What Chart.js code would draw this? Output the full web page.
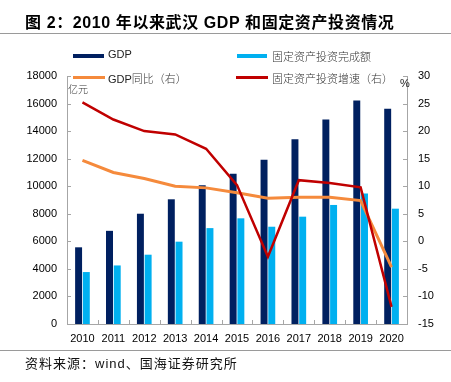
<!DOCTYPE html>
<html><head><meta charset="utf-8">
<script src="https://cdn.jsdelivr.net/npm/chart.js@4"></script>
<style>
html,body{margin:0;padding:0;background:#fff;}
#wrap{position:relative;width:451px;height:382px;overflow:hidden;font-family:"Liberation Sans","Noto Sans CJK SC",sans-serif;}
canvas{position:absolute;left:0;top:0;}
.t{position:absolute;white-space:nowrap;color:#000;}
.sw{position:absolute;}
</style></head>
<body>
<div id="wrap">
<canvas id="c" width="451" height="382"></canvas>
<div class="t" style="left:25px;top:9px;font-size:16px;font-weight:bold;letter-spacing:0.6px;">图 2：2010 年以来武汉 GDP 和固定资产投资情况</div>
<div class="sw" style="left:0;top:33px;width:451px;height:1px;background:#9a9a9a;"></div>
<div class="sw" style="left:0;top:350px;width:451px;height:1px;background:#9a9a9a;"></div>
<div class="t" style="left:25px;top:353px;font-size:13px;color:#111;letter-spacing:1px;">资料来源：wind、国海证券研究所</div>

<div class="sw" style="left:73px;top:54px;width:31px;height:4px;background:#002060;"></div>
<div class="t" style="left:108px;top:48px;font-size:11px;color:#222;">GDP</div>
<div class="sw" style="left:237px;top:54px;width:30px;height:4px;background:#00B0F0;"></div>
<div class="t" style="left:272px;top:48px;font-size:11px;color:#333;font-family:'Noto Sans CJK SC';font-weight:300;">固定资产投资完成额</div>

<div class="sw" style="left:73px;top:76px;width:32px;height:3px;background:#F58A3C;"></div>
<div class="t" style="left:108px;top:70px;font-size:11px;color:#222;">GDP<span style="font-family:'Noto Sans CJK SC';font-weight:300;color:#333;">同比（右）</span></div>
<div class="sw" style="left:236px;top:76px;width:32px;height:3px;background:#C00000;"></div>
<div class="t" style="left:272px;top:70px;font-size:11px;color:#333;font-family:'Noto Sans CJK SC';font-weight:300;">固定资产投资增速（右）</div>

<div class="t" style="left:68px;top:81px;font-size:10px;color:#333;font-family:'Noto Sans CJK SC';font-weight:300;">亿元</div>
<div class="t" style="left:400px;top:77px;font-size:11px;color:#222;">%</div>
</div>
<script>
const years = ["2010","2011","2012","2013","2014","2015","2016","2017","2018","2019","2020"];
const gdp = [5566, 6762, 8004, 9051, 10069, 10906, 11913, 13410, 14847, 16223, 15616];
const fai = [3770, 4250, 5030, 5975, 6960, 7670, 7060, 7790, 8640, 9480, 8370];
const gdpGrowth = [14.7, 12.5, 11.4, 10.0, 9.7, 8.8, 7.8, 8.0, 8.0, 7.4, -4.7];
const faiGrowth = [25.2, 22.1, 20.0, 19.4, 16.8, 10.2, -2.8, 11.1, 10.6, 9.8, -11.9];
const leftTicks = [0,2000,4000,6000,8000,10000,12000,14000,16000,18000];
const rightTicks = [-15,-10,-5,0,5,10,15,20,25,30];

const AX = '#a6a6a6';
const tickFont = {family:"'Liberation Sans', Arial, sans-serif", size:11};

const innerTicks = {
  id:'innerTicks',
  afterDraw(chart){
    const ctx = chart.ctx, a = chart.chartArea;
    ctx.save(); ctx.strokeStyle = AX; ctx.lineWidth = 1;
    const y = chart.scales.y, y1 = chart.scales.y1;
    ctx.beginPath();
    leftTicks.forEach(v=>{const p=Math.round(y.getPixelForValue(v))+0.5; ctx.moveTo(a.left,p); ctx.lineTo(a.left+4,p);});
    rightTicks.forEach(v=>{const p=Math.round(y1.getPixelForValue(v))+0.5; ctx.moveTo(a.right-4,p); ctx.lineTo(a.right,p);});
    const w = (a.right-a.left)/years.length;
    for(let i=1;i<years.length;i++){const p=Math.round(a.left+i*w)+0.5; ctx.moveTo(p,a.bottom); ctx.lineTo(p,a.bottom-4);}
    ctx.stroke(); ctx.restore();
  }
};

new Chart(document.getElementById('c'), {
  type:'bar',
  data:{
    labels: years,
    datasets:[
      {label:'GDP', data:gdp, backgroundColor:'#002060', yAxisID:'y', order:3, barPercentage:0.9, categoryPercentage:0.5},
      {label:'固定资产投资完成额', data:fai, backgroundColor:'#00B0F0', yAxisID:'y', order:3, barPercentage:0.9, categoryPercentage:0.5},
      {type:'line', label:'GDP同比（右）', data:gdpGrowth, borderColor:'#F58A3C', borderWidth:3, pointRadius:0, tension:0, yAxisID:'y1', order:2},
      {type:'line', label:'固定资产投资增速（右）', data:faiGrowth, borderColor:'#C00000', borderWidth:2.5, pointRadius:0, tension:0, yAxisID:'y1', order:1}
    ]
  },
  options:{
    responsive:false, animation:false, devicePixelRatio:1,
    layout:{padding:{top:76, left:0, right:0, bottom:0}},
    plugins:{legend:{display:false}, tooltip:{enabled:false}, title:{display:false}},
    scales:{
      x:{
        grid:{display:false, drawTicks:false},
        border:{display:true, color:AX, width:1},
        ticks:{font:tickFont, color:'#000', padding:8, maxRotation:0, autoSkip:false},
        afterFit(s){s.height = 58;}
      },
      y:{
        position:'left', min:0, max:18000,
        afterBuildTicks(s){s.ticks = leftTicks.map(v=>({value:v}));},
        grid:{display:false, drawTicks:false},
        border:{display:true, color:AX, width:1},
        ticks:{font:tickFont, color:'#000', padding:10, callback:(v)=>String(v)},
        afterFit(s){s.width = 67;}
      },
      y1:{
        position:'right', min:-15, max:30,
        afterBuildTicks(s){s.ticks = rightTicks.map(v=>({value:v}));},
        grid:{display:false, drawTicks:false},
        border:{display:true, color:AX, width:1},
        ticks:{font:tickFont, color:'#000', padding:11, callback:(v)=>String(v)},
        afterFit(s){s.width = 44;}
      }
    }
  },
  plugins:[innerTicks]
});
</script>
</body></html>
